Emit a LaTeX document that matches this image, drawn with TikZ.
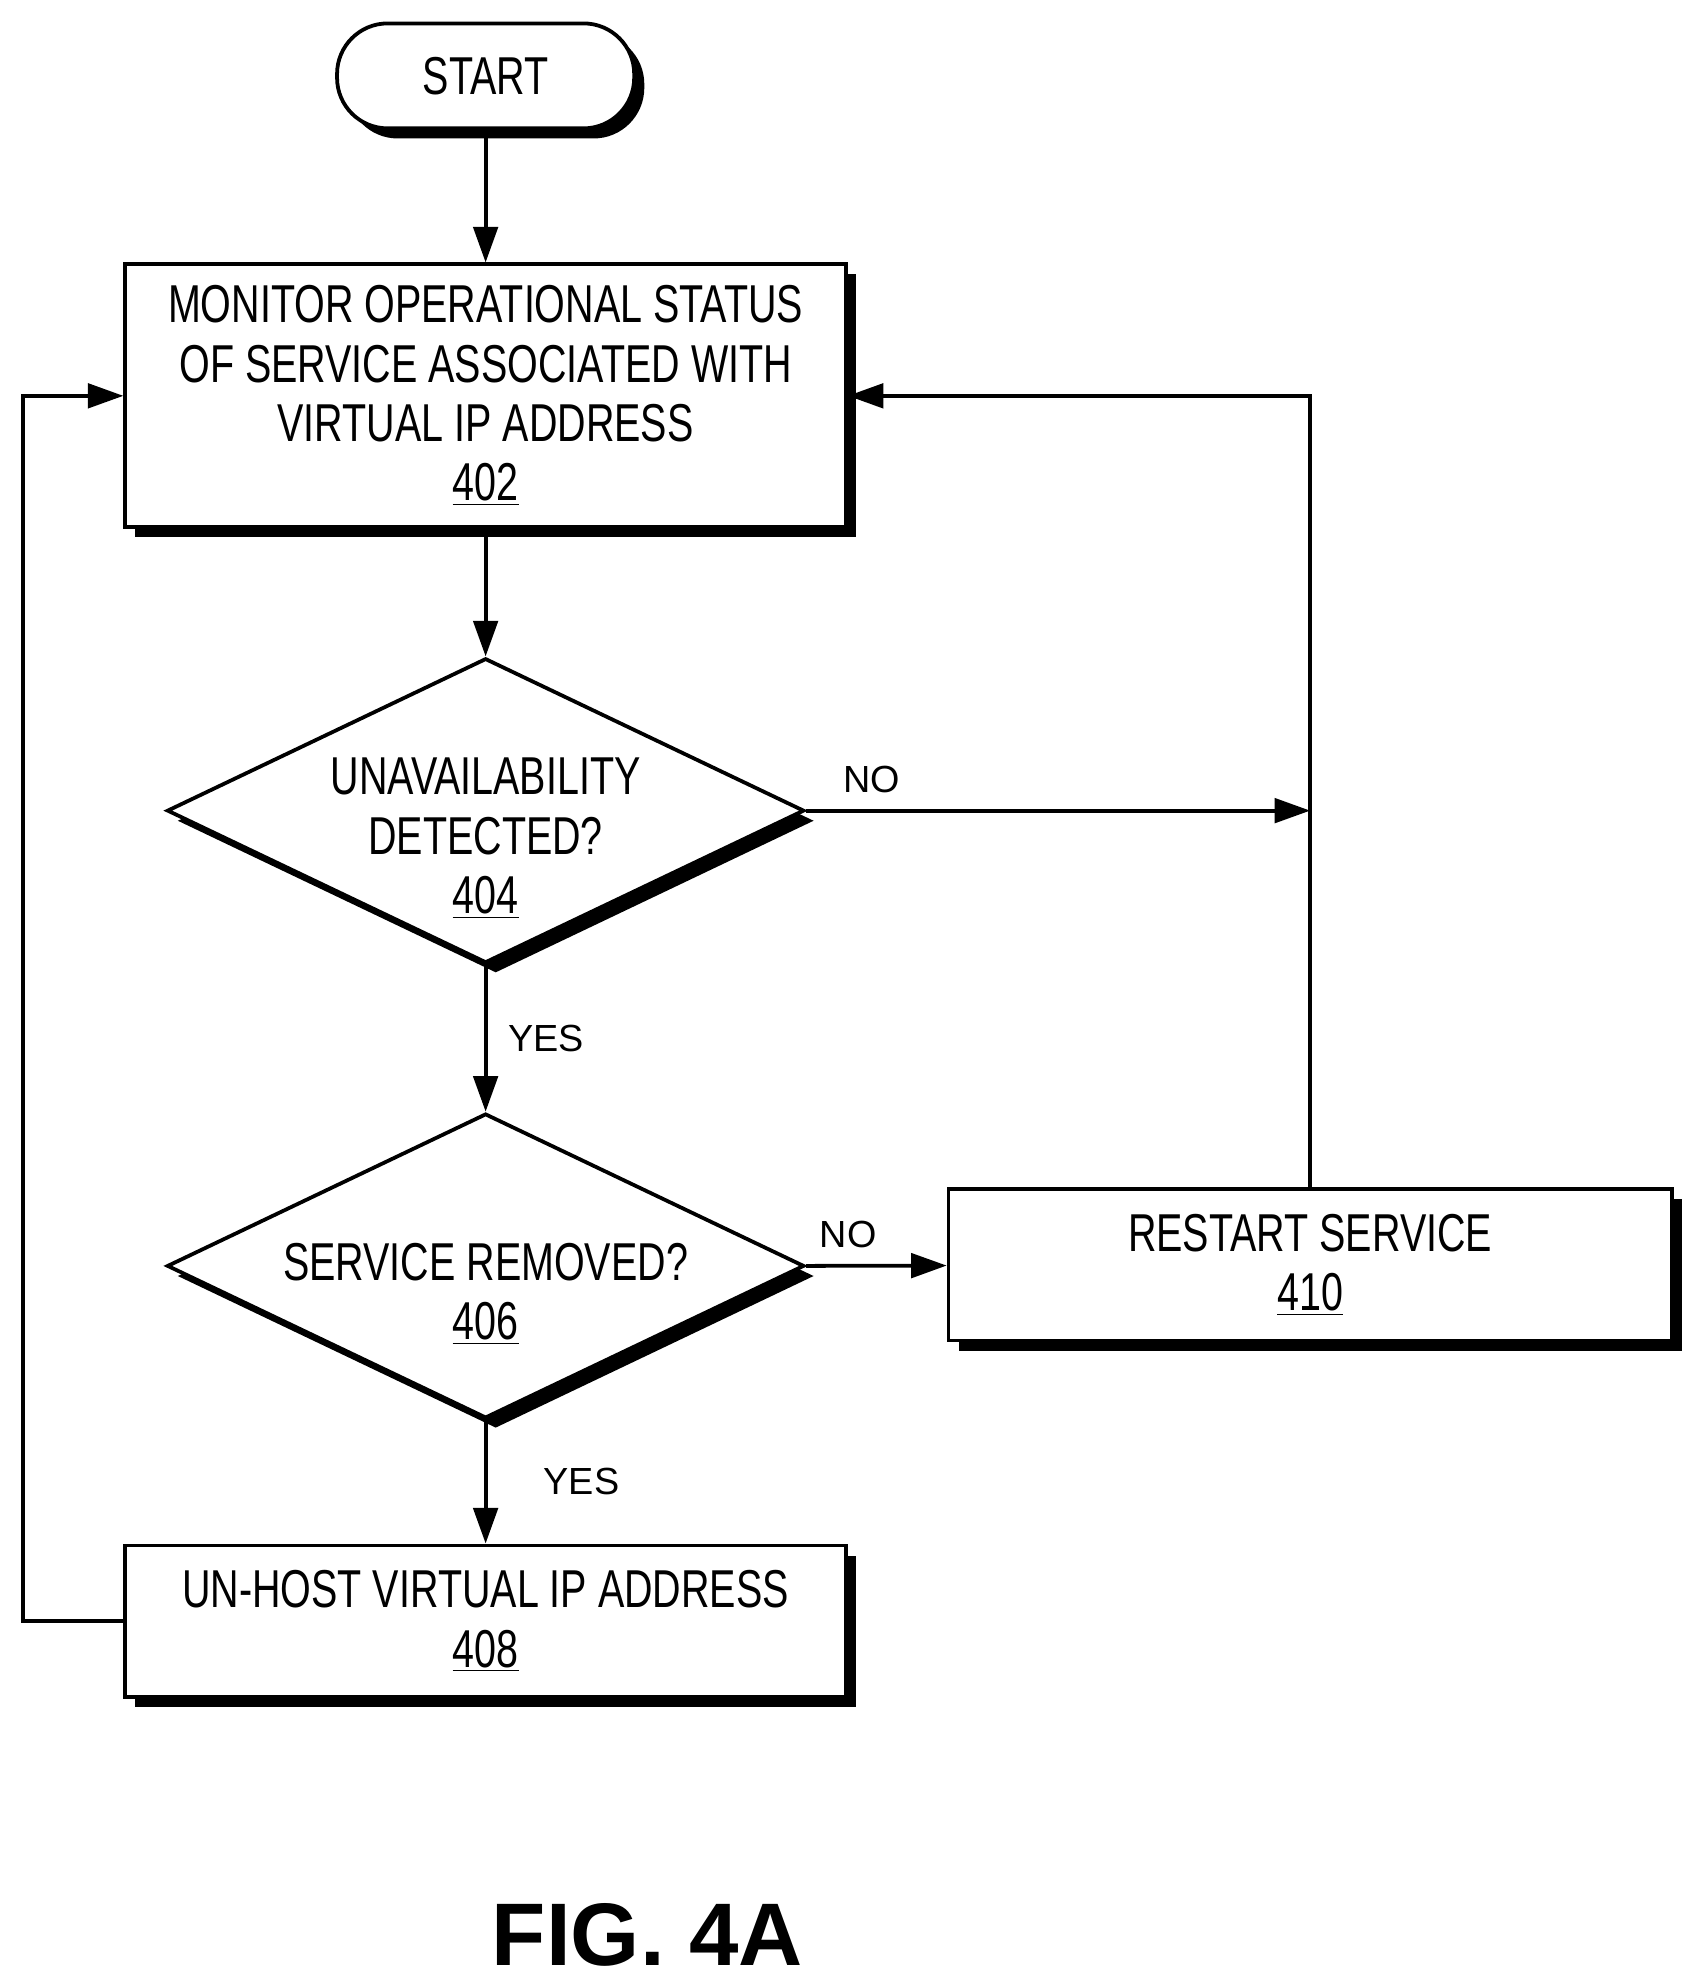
\documentclass[tikz,border=0pt]{standalone}
\usepackage{fontspec}
\setmainfont[FakeStretch=0.74]{Liberation Sans}
\newfontfamily\lblfont{Liberation Sans}
\usetikzlibrary{shapes.geometric,shadows,arrows.meta}

\tikzset{
  flow/.style={line width=1.7pt,-{Triangle[length=16pt,width=11pt]}},
  boxshadow/.style={drop shadow={shadow xshift=0.16cm,shadow yshift=-0.16cm,opacity=1,fill=black}},
  proc/.style={draw,line width=1.7pt,fill=white,boxshadow,minimum width=11.4cm,
    align=center,font=\fontsize{24}{26.7}\selectfont},
  ask/.style={draw,line width=1.7pt,fill=white,boxshadow,diamond,inner sep=0pt,
    minimum width=10.08cm,minimum height=4.82cm},
  txt/.style={align=center,font=\fontsize{24}{26.7}\selectfont},
  lbl/.style={font=\lblfont\fontsize{17}{20}\selectfont},
}

\begin{document}
\begin{tikzpicture}[x=0.02cm,y=-0.02cm]
\useasboundingbox (0,0) rectangle (1350,1572);
% nodes
\node[proc,rounded corners=0.8cm,minimum width=4.7cm,minimum height=1.66cm] (start) at (384,60) {START};
\node[proc,minimum height=4.16cm] (s402) at (384,313)
  {MONITOR OPERATIONAL STATUS\\OF SERVICE ASSOCIATED WITH\\VIRTUAL IP ADDRESS\\\underline{402}};
\node[ask] (d404) at (384,641) {};
\node[txt] (t404) at (384,663) {UNAVAILABILITY\\DETECTED?\\\underline{404}};
\node[ask] (d406) at (384,1001) {};
\node[txt] (t406) at (384,1023) {SERVICE REMOVED?\\\underline{406}};
\node[proc,minimum width=11.44cm,minimum height=2.4cm] (s410) at (1036,1000)
  {RESTART SERVICE\\\underline{410}};
\node[proc,minimum height=2.4cm] (s408) at (384,1282)
  {UN-HOST VIRTUAL IP ADDRESS\\\underline{408}};
\coordinate (join) at (1036,641);
\coordinate (back) at (18,1282);
% connectors
\draw[flow] (start) -- (s402);
\draw[flow] (s402) -- (d404);
\draw[flow] (d404) -- node[lbl,right,xshift=6pt] {YES} (d406);
\draw[flow] (d404.east) -- node[lbl,above,pos=0.13,yshift=4pt] {NO} (join);
\draw[flow] (d406.east) -- node[lbl,above,pos=0.3,yshift=4pt] {NO} (s410);
\draw[flow] (d406) -- node[lbl,right,xshift=22pt] {YES} (s408);
\draw[flow] (s410.north) |- (s402.east);
\draw[flow] (s408.west) -- (back) |- (s402.west);
\node[font=\lblfont\bfseries\fontsize{40}{44}\selectfont] (fig) at (512,1530) {FIG. 4A};
\end{tikzpicture}
\end{document}
